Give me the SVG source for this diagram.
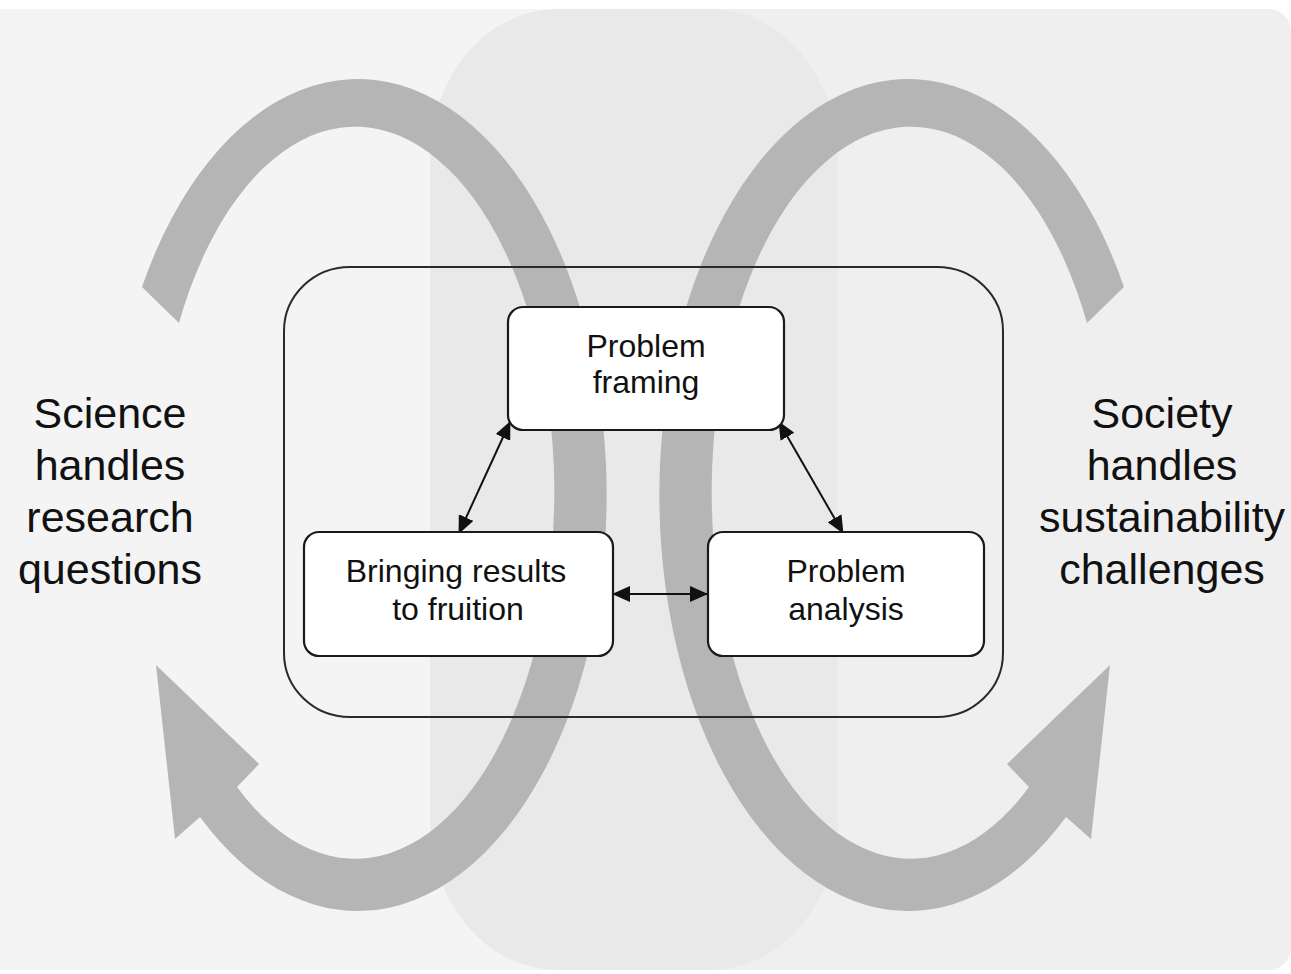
<svg xmlns="http://www.w3.org/2000/svg" width="1291" height="974" viewBox="0 0 1291 974">
  <defs>
    <style>
      .band { fill: #b5b5b5; }
      .node rect { fill: #ffffff; stroke: #1a1a1a; stroke-width: 2.2; }
      .node text { font-family: "Liberation Sans", Arial, sans-serif; font-size: 32px; fill: #111; text-anchor: middle; }
      .label { font-family: "Liberation Sans", Arial, sans-serif; font-size: 43px; fill: #111; text-anchor: middle; }
      .conn { stroke: #111; stroke-width: 2; fill: none; marker-start: url(#ah); marker-end: url(#ah); }
    </style>
    <marker id="ah" viewBox="0 0 18 16" refX="17" refY="8" markerWidth="18" markerHeight="16" markerUnits="userSpaceOnUse" orient="auto-start-reverse">
      <path d="M0,0 L18,8 L0,16 Z" fill="#111"/>
    </marker>
  </defs>

  <rect x="0" y="0" width="1291" height="974" fill="#ffffff"/>

  <g id="background">
    <rect x="0" y="9" width="640" height="961" fill="#f4f4f4"/>
    <path d="M630 9 H1269 A22 22 0 0 1 1291 31 V948 A22 22 0 0 1 1269 970 H630 Z" fill="#efefef"/>
    <path d="M557 9 H711 A127 150 0 0 1 838 159 V820 A127 150 0 0 1 711 970 H557 A127 150 0 0 1 430 820 V159 A127 150 0 0 1 557 9 Z" fill="#e9e9e9"/>
  </g>

  <g id="science-loop">
    <path class="band" d="M142 287 A249 416 0 1 1 200 817 L175 839 L156 665 L259 764 L237 787 A199 366 0 1 0 179 323 Z"/>
  </g>
  <g id="society-loop" transform="translate(1266,0) scale(-1,1)">
    <path class="band" d="M142 287 A249 416 0 1 1 200 817 L175 839 L156 665 L259 764 L237 787 A199 366 0 1 0 179 323 Z"/>
  </g>

  <g id="container">
    <rect x="284" y="267" width="719" height="450" rx="66" ry="64" fill="none" stroke="#2a2a2a" stroke-width="2"/>
  </g>

  <g id="science-label">
    <text class="label" x="110" y="428">Science</text>
    <text class="label" x="110" y="480">handles</text>
    <text class="label" x="110" y="532">research</text>
    <text class="label" x="110" y="584">questions</text>
  </g>
  <g id="society-label">
    <text class="label" x="1162" y="428">Society</text>
    <text class="label" x="1162" y="480">handles</text>
    <text class="label" x="1162" y="532">sustainability</text>
    <text class="label" x="1162" y="584">challenges</text>
  </g>

  <g id="connectors">
    <line class="conn" x1="510" y1="422" x2="459" y2="533"/>
    <line class="conn" x1="779" y1="422" x2="843" y2="533"/>
    <line class="conn" x1="613" y1="594" x2="707" y2="594"/>
  </g>

  <g id="problem-framing" class="node">
    <rect x="508" y="307" width="276" height="123" rx="15"/>
    <text x="646" y="357">Problem</text>
    <text x="646" y="393">framing</text>
  </g>
  <g id="bringing-results" class="node">
    <rect x="304" y="532" width="309" height="124" rx="15"/>
    <text x="456" y="582">Bringing results</text>
    <text x="458" y="620">to fruition</text>
  </g>
  <g id="problem-analysis" class="node">
    <rect x="708" y="532" width="276" height="124" rx="15"/>
    <text x="846" y="582">Problem</text>
    <text x="846" y="620">analysis</text>
  </g>
</svg>
